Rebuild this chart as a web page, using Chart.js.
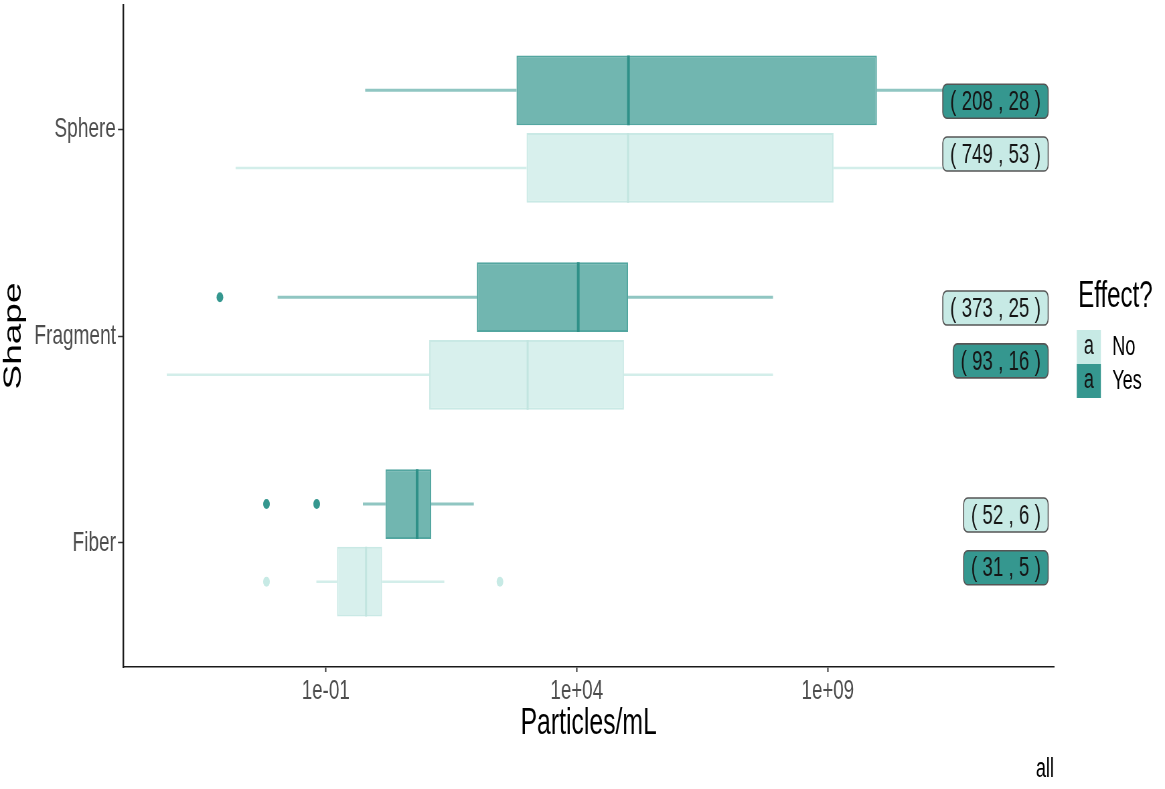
<!DOCTYPE html>
<html>
<head>
<meta charset="utf-8">
<script src="https://cdn.jsdelivr.net/npm/chart.js@4.4.1/dist/chart.umd.min.js"></script>
<style>
  html, body { margin: 0; padding: 0; overflow: hidden; background: #fff; }
  /* the chart is laid out wide and squeezed horizontally to its final 1165px width */
  #frame { width: 1740px; height: 789px; transform: scaleX(0.66954); transform-origin: 0 0; }
</style>
</head>
<body>
<div id="frame"><canvas id="chart"></canvas></div>
<script>
// ---- data -------------------------------------------------------------
const shapes  = ['Fiber', 'Fragment', 'Sphere'];
const effects = ['No', 'Yes'];

// Particles/mL box summaries, same order as `shapes`
const noWhiskerLow   = [6.5e-2, 6.8e-5, 1.6e-3];
const noQ1           = [0.168, 11.5, 1.0e3];
const noMedian       = [0.635, 1.05e3, 1.05e5];
const noQ3           = [1.32, 8.7e4, 1.3e9];
const noWhiskerHigh  = [23, 8.1e7, 3.0e12];
const noOutliers     = [[6.6e-3, 295], [], []];

const yesWhiskerLow  = [0.55, 1.1e-2, 0.61];
const yesQ1          = [1.55, 102, 630];
const yesMedian      = [6.6, 1.07e4, 1.07e5];
const yesQ3          = [12.6, 1.05e5, 9.5e9];
const yesWhiskerHigh = [89, 8.1e7, 3.0e12];
const yesOutliers    = [[6.6e-3, 6.6e-2], [7.8e-4], []];

// counts shown as "( observations , studies )"
const noCounts   = [52, 373, 749];
const noStudies  = [6, 25, 53];
const yesCounts  = [31, 93, 208];
const yesStudies = [5, 16, 28];
const yesLabelOnTop = [false, false, true];

const xTickValues = [1e-1, 1e4, 1e9];
const xTickLabels = ['1e-01', '1e+04', '1e+09'];

// ---- styling / geometry ------------------------------------------------
const FONT = '"Liberation Sans", Arial, Helvetica, sans-serif';
const YES = '#35978f';
const NO  = '#c7eae5';
const DODGE = 0.1875;          // half of the 0.75 dodge width
const HALF_BOX = 0.16875;      // half of a box's height (0.9 of its slot)
const LABEL_X = 2.45e13;       // right edge of the count labels
const LABEL_UP = 0.135, LABEL_DOWN = 0.12;
const GAP = { x: null, y: null };

const pos = (i, eff) => i + (eff === 'Yes' ? DODGE : -DODGE);

function boxData(q1, q3, eff) {
  return shapes.map((s, i) => ({ x: [q1[i], q3[i]], y: pos(i, eff) }));
}
function whiskerData(lo, q1, q3, hi, eff) {
  const out = [];
  shapes.forEach((s, i) => {
    const y = pos(i, eff);
    out.push({ x: lo[i], y }, { x: q1[i], y }, GAP, { x: q3[i], y }, { x: hi[i], y }, GAP);
  });
  return out;
}
function medianData(med, eff) {
  const out = [];
  shapes.forEach((s, i) => {
    const y = pos(i, eff);
    out.push({ x: med[i], y: y - HALF_BOX }, { x: med[i], y: y + HALF_BOX }, GAP);
  });
  return out;
}
function outlierData(list, eff) {
  return list.flatMap((vals, i) => vals.map(v => ({ x: v, y: pos(i, eff) })));
}

const lineStyle = { type: 'line', pointRadius: 0, pointHoverRadius: 0, fill: false, spanGaps: false, borderCapStyle: 'butt' };

// ---- count labels drawn over the boxes ----------------------------------
const countLabels = {
  id: 'countLabels',
  afterDatasetsDraw(chart) {
    const { ctx, scales: { x, y } } = chart;
    const right = x.getPixelForValue(LABEL_X);
    ctx.save();
    ctx.font = `28px ${FONT}`;
    ctx.textAlign = 'center';
    ctx.textBaseline = 'middle';
    shapes.forEach((s, i) => {
      const items = [
        { text: `( ${yesCounts[i]} , ${yesStudies[i]} )`, fill: YES, up: yesLabelOnTop[i] },
        { text: `( ${noCounts[i]} , ${noStudies[i]} )`, fill: NO, up: !yesLabelOnTop[i] }
      ];
      items.forEach(it => {
        const cy = y.getPixelForValue(i + (it.up ? LABEL_UP : -LABEL_DOWN));
        const w = ctx.measureText(it.text).width + 22, h = 34;
        ctx.beginPath();
        ctx.roundRect(right - w, cy - h / 2, w, h, 6);
        ctx.fillStyle = it.fill;
        ctx.fill();
        ctx.lineWidth = 1.6;
        ctx.strokeStyle = '#555';
        ctx.stroke();
        ctx.fillStyle = '#151515';
        ctx.fillText(it.text, right - w / 2, cy + 1);
      });
    });
    ctx.restore();
  }
};

// ---- legend on the right -----------------------------------------------
const effectLegend = {
  id: 'effectLegend',
  afterDraw(chart) {
    const { ctx, chartArea: a } = chart;
    const mid = (a.top + a.bottom) / 2;
    const kx = a.right + 34, kw = 36, kh = 34;
    const top = mid - 6;
    ctx.save();
    ctx.fillStyle = '#000';
    ctx.textBaseline = 'alphabetic';
    ctx.textAlign = 'left';
    ctx.font = `36px ${FONT}`;
    ctx.fillText('Effect?', a.right + 36, mid - 29);
    const fills = { No: NO, Yes: YES };
    effects.forEach((eff, k) => {
      const ky = top + k * kh;
      ctx.fillStyle = fills[eff];
      ctx.fillRect(kx, ky, kw, kh);
      ctx.font = `27px ${FONT}`;
      ctx.textAlign = 'center';
      ctx.textBaseline = 'middle';
      ctx.fillStyle = '#151515';
      ctx.fillText('a', kx + kw / 2, ky + kh / 2);
      ctx.textAlign = 'left';
      ctx.fillStyle = '#000';
      ctx.fillText(eff, a.right + 87, ky + kh / 2 + 1);
    });
    ctx.restore();
  }
};

new Chart(document.getElementById('chart'), {
  type: 'bar',
  data: {
    datasets: [
      { ...lineStyle, order: 4, data: whiskerData(yesWhiskerLow, yesQ1, yesQ3, yesWhiskerHigh, 'Yes'),
        borderColor: 'rgba(53,151,143,0.55)', borderWidth: 3 },
      { ...lineStyle, order: 4, data: whiskerData(noWhiskerLow, noQ1, noQ3, noWhiskerHigh, 'No'),
        borderColor: '#d3eeea', borderWidth: 2.5 },
      { type: 'bar', order: 2, data: boxData(yesQ1, yesQ3, 'Yes'),
        backgroundColor: 'rgba(53,151,143,0.7)', borderColor: 'rgba(53,151,143,0.85)', borderWidth: 2,
        borderSkipped: false, grouped: false, barPercentage: 0.9, categoryPercentage: 1 },
      { type: 'bar', order: 2, data: boxData(noQ1, noQ3, 'No'),
        backgroundColor: 'rgba(199,234,229,0.7)', borderColor: '#c9e9e5', borderWidth: 2,
        borderSkipped: false, grouped: false, barPercentage: 0.9, categoryPercentage: 1 },
      { ...lineStyle, order: 1, data: medianData(yesMedian, 'Yes'), borderColor: '#2f9088', borderWidth: 4 },
      { ...lineStyle, order: 1, data: medianData(noMedian, 'No'), borderColor: '#c2e5e0', borderWidth: 3 },
      { type: 'scatter', order: 0, data: outlierData(yesOutliers, 'Yes'),
        pointRadius: 5, pointHoverRadius: 5, pointBackgroundColor: YES, pointBorderWidth: 0 },
      { type: 'scatter', order: 0, data: outlierData(noOutliers, 'No'),
        pointRadius: 5, pointHoverRadius: 5, pointBackgroundColor: NO, pointBorderWidth: 0 }
    ]
  },
  options: {
    indexAxis: 'y',
    responsive: true,
    maintainAspectRatio: false,
    animation: false,
    events: [],
    layout: { padding: { left: 0, right: 165.8, top: 5, bottom: 3 } },
    plugins: {
      legend: { display: false },
      tooltip: { enabled: false },
      title: {
        display: true, text: 'all', position: 'bottom', align: 'end', color: '#000',
        font: { family: FONT, size: 27, weight: 'normal' }, padding: 0
      }
    },
    scales: {
      x: {
        type: 'logarithmic', position: 'bottom', min: 9.3e-6, max: 3.2e13,
        afterBuildTicks: s => { s.ticks = xTickValues.map(v => ({ value: v })); },
        afterFit: s => { s.height = 86.6; s.paddingLeft = 0; s.paddingRight = 0; },
        border: { display: true, color: '#1a1a1a', width: 1.6 },
        grid: { drawOnChartArea: false, drawTicks: true, tickLength: 5, tickColor: '#333', tickWidth: 2 },
        ticks: {
          autoSkip: false, maxRotation: 0, padding: 2, color: '#4d4d4d',
          font: { family: FONT, size: 28 }, callback: (v, i) => xTickLabels[i]
        },
        title: {
          display: true, text: 'Particles/mL', color: '#000',
          font: { family: FONT, size: 37, lineHeight: 1 }, padding: { top: 0, bottom: 11.6 }
        }
      },
      y: {
        type: 'linear', position: 'left', min: -0.6, max: 2.6, offset: false,
        afterBuildTicks: s => { s.ticks = shapes.map((_, i) => ({ value: i })); },
        afterFit: s => { s.width = 184.2; s.paddingTop = 0; s.paddingBottom = 0; },
        border: { display: true, color: '#1a1a1a', width: 2.4 },
        grid: { drawOnChartArea: false, offset: false, drawTicks: true, tickLength: 8, tickColor: '#333', tickWidth: 1.5 },
        ticks: { padding: 3, color: '#4d4d4d', font: { family: FONT, size: 28.5 }, callback: v => shapes[v] },
        title: {
          display: true, text: 'Shape', color: '#000',
          font: { family: FONT, size: 37, lineHeight: 1 }, padding: { top: 2, bottom: 0 }
        }
      }
    }
  },
  plugins: [countLabels, effectLegend]
});
</script>
</body>
</html>
